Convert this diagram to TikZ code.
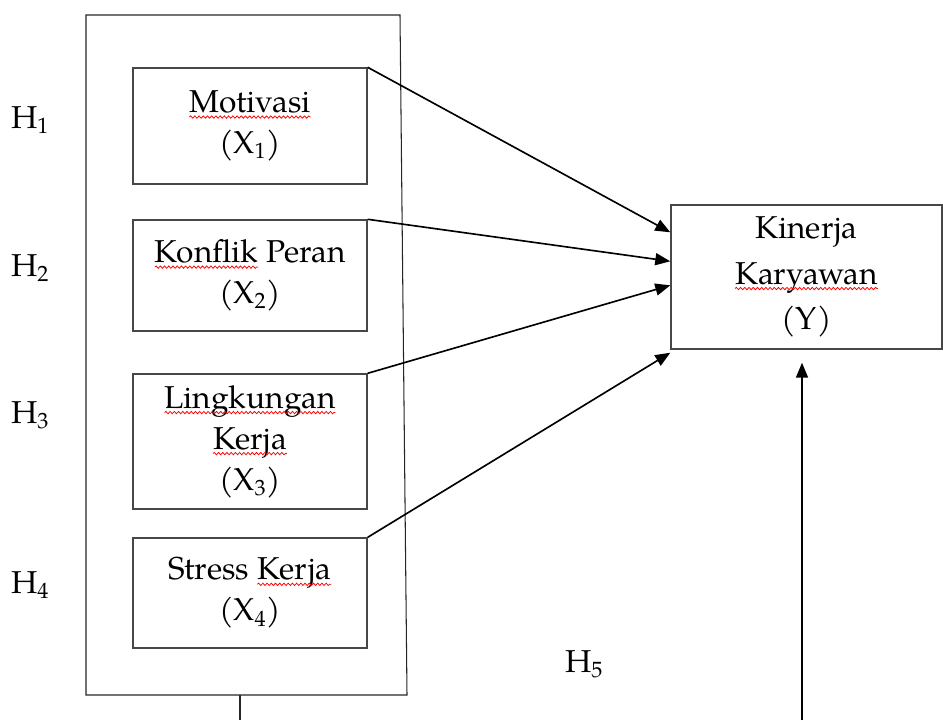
\documentclass[tikz,border=0pt]{standalone}
\usepackage{fontspec}
\setmainfont{TeX Gyre Pagella}
\usepackage{tikz}
\usetikzlibrary{arrows.meta, positioning, calc, decorations.pathmorphing}

% red spell-check wave under a word
\newcommand\spellwave[1]{\tikz[baseline=(sw.base)]{%
  \node[draw=none, minimum width=0pt, minimum height=0pt, inner sep=0pt,
    outer sep=0pt, align=none] (sw) {#1};
  \draw[red, line width=0.65pt, decorate,
    decoration={snake, amplitude=1pt, segment length=3.6pt}]
    ([yshift=-3.8pt]sw.base west) -- ([yshift=-3.8pt]sw.base east);}}

\begin{document}
\begin{tikzpicture}[
  x=0.03cm, y=-0.03cm,
  every node/.style={font=\fontsize{27}{35}\selectfont},
  varbox/.style={rectangle, draw=black!72, line width=1.2pt, align=center,
    minimum width=7.02cm, inner sep=0pt},
  depbox/.style={rectangle, draw=black!72, line width=1.2pt, align=center,
    minimum width=8.13cm, minimum height=4.32cm, inner sep=0pt},
  hypo/.style={inner sep=0pt},
  link/.style={-{Triangle[length=0.45cm, width=0.36cm]}, line width=1.4pt, draw=black}
]
  \useasboundingbox (0,0) rectangle (943,720);

  % independent variables
  \node[varbox, minimum height=3.48cm] (mot) at (250,126) {\spellwave{Motivasi}\\(X\textsubscript{1})};
  \node[varbox, minimum height=3.33cm] (konf) at (250,275.5) {\spellwave{Konflik} Peran\\(X\textsubscript{2})};
  \node[varbox, minimum height=4.05cm] (ling) at (250,441.5) {\spellwave{Lingkungan}\\\spellwave{Kerja}\\(X\textsubscript{3})};
  \node[varbox, minimum height=3.30cm] (stres) at (250,593) {Stress \spellwave{Kerja}\\(X\textsubscript{4})};

  % simultaneous frame
  \coordinate (ftl) at (86,15);
  \coordinate (ftr) at (400,15);
  \coordinate (fbr) at (407,695);
  \coordinate (fbl) at (86,695);
  \draw[draw=black!85, line width=0.9pt] (ftl) -- (ftr) -- (fbr) -- (fbl) -- cycle;

  % dependent variable
  \node[depbox] (kin) at (806.5,277) {Kinerja\\[4pt]\spellwave{Karyawan}\\[4pt](Y)};

  % hypothesis labels
  \node[hypo] (h1) at (30,120) {H\textsubscript{1}};
  \node[hypo] (h2) at (30,268) {H\textsubscript{2}};
  \node[hypo] (h3) at (30,415) {H\textsubscript{3}};
  \node[hypo] (h4) at (30,585) {H\textsubscript{4}};
  \node[hypo] (h5) at (584,664) {H\textsubscript{5}};

  % partial paths
  \draw[link] (mot.north east) -- ($(kin.north west)+(0,28)$);
  \draw[link] (konf.north east) -- ($(kin.north west)+(0,57)$);
  \draw[link] (ling.north east) -- ($(kin.north west)+(0,81)$);
  \draw[link] (stres.north east) -- ($(kin.south west)+(0,3)$);

  % simultaneous path
  \coordinate (fdrop) at (240,695);
  \coordinate (fend) at (240,720);
  \coordinate (sstart) at (802,720);
  \draw[draw=black!85, line width=0.9pt] (fdrop) -- (fend);
  \draw[link] (sstart) -- ($(kin.south)+(-4.5,13)$);
\end{tikzpicture}
\end{document}
